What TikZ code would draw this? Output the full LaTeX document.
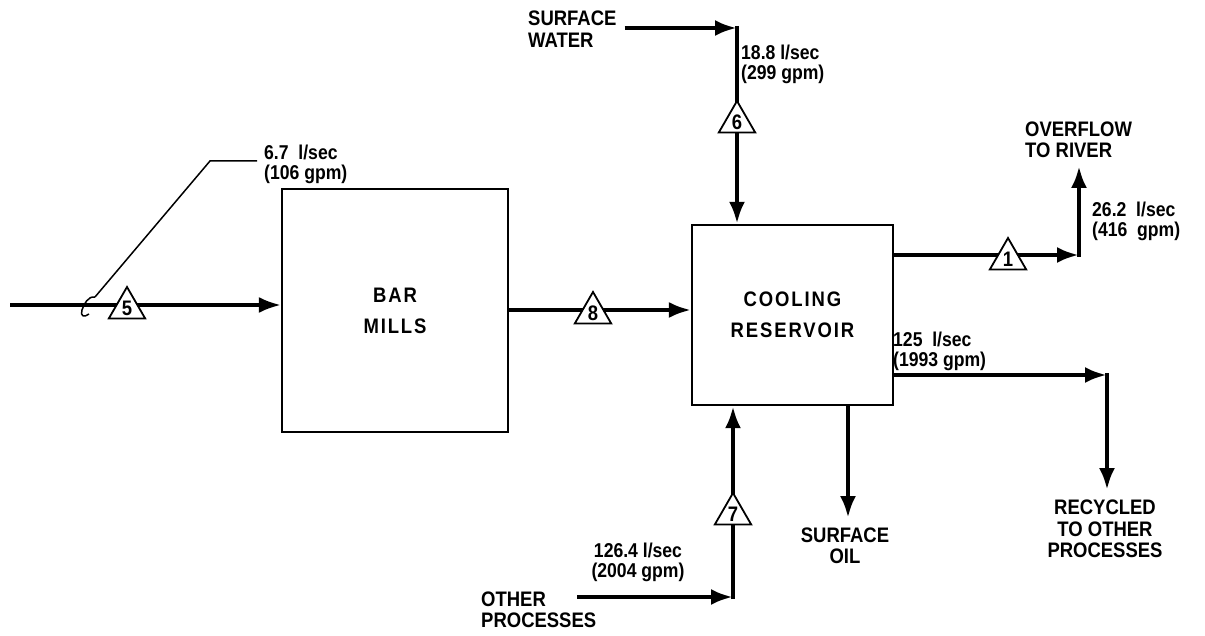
\documentclass[tikz,border=0pt]{standalone}
\usepackage{fontspec}
\setmainfont{Liberation Sans}[FakeStretch=0.88]
\usetikzlibrary{arrows.meta,shapes.geometric}
\newcommand\labfont{\bfseries\fontsize{21}{21.5}\selectfont}
\newcommand\numfont{\bfseries\fontsize{20}{20}\selectfont}
\newcommand\boxfont{\bfseries\addfontfeatures{LetterSpace=9}\fontsize{21}{31}\selectfont}
\begin{document}
\begin{tikzpicture}[x=1pt,y=-1pt,
  box/.style={draw, line width=2.2pt, inner sep=0pt, align=center, font=\boxfont},
  flow/.style={line width=4.5pt, -{Latex[length=22pt,width=16pt]}},
  tri/.style={regular polygon, regular polygon sides=3, minimum size=42pt, draw, line width=1.8pt, fill=white, inner sep=0pt, font=\labfont},
  lab/.style={font=\labfont, align=left, inner sep=0pt},
  num/.style={font=\numfont, align=left, inner sep=0pt},
  leader/.style={line width=1.5pt},
]
\fill[white] (0,0) rectangle (1205,636);
\useasboundingbox (0,0) rectangle (1205,636);

% boxes
\node[box, minimum width=226pt, minimum height=243pt] (bm) at (395,310.5) {\raisebox{-2pt}{BAR}\\\raisebox{-2pt}{MILLS}};
\node[box, minimum width=201pt, minimum height=180pt] (cr) at (792.5,315) {\raisebox{-2pt}{COOLING}\\\raisebox{-2pt}{RESERVOIR}};

% coordinates
\coordinate (in5) at (10,305);
\coordinate (l8) at (600,310);
\coordinate (c6) at (737,28);
\coordinate (c1) at (1079,255);
\coordinate (ov) at (1079,166);
\coordinate (c9) at (1107,375);
\coordinate (rec) at (1107,490);
\coordinate (oil) at (848,518);
\coordinate (s7) at (577,597);
\coordinate (c7) at (733,597);
\coordinate (h5) at (95,297);
\coordinate (k5) at (210,161);
\coordinate (e5) at (257,161);

% labels
\node[lab, anchor=west] (sw) at (528,29) {SURFACE\\WATER};
\node[lab, anchor=west] (ovl) at (1025,140) {OVERFLOW\\TO RIVER};
\node[lab, align=center] (recl) at (1105,529) {RECYCLED\\TO OTHER\\PROCESSES};
\node[lab, align=center] (oill) at (845,546) {SURFACE\\OIL};
\node[lab, anchor=west] (op) at (481,610) {OTHER\\PROCESSES};

\node[num, anchor=west] (q5) at (264,164) {6.7\ \ l/sec\\(106 gpm)};
\node[num, anchor=west] (q6) at (741,64) {18.8 l/sec\\(299 gpm)};
\node[num, anchor=west] (q1) at (1092,221) {26.2\ \ l/sec\\(416\ \ gpm)};
\node[num, anchor=west] (q9) at (893,351) {125\ \ l/sec\\(1993 gpm)};
\node[num, align=center] (q7) at (638,562) {126.4 l/sec\\(2004 gpm)};

% flows
\draw[flow, line width=3.5pt] (in5) -- (in5 -| bm.west);
\draw[flow, line width=3.8pt] (bm.east |- l8) -- (cr.west |- l8);
\draw[flow] (sw.north east |- c6) ++(8,0) -- (c6);
\draw[flow] ([yshift=2pt]c6) -- (c6 |- cr.north);
\draw[flow] (cr.east |- c1) -- (c1);
\draw[flow] ([yshift=-2pt]c1) -- (ov);
\draw[flow] (cr.east |- c9) -- (c9);
\draw[flow] ([yshift=2pt]c9) -- (rec);
\draw[flow] (oil |- cr.south) -- (oil);
\draw[flow] (s7) -- (c7);
\draw[flow] ([yshift=-2pt]c7) -- (c7 |- cr.south);

% leader
\draw[leader] (h5) -- (k5) -- (e5);
\draw[leader] (h5) .. controls (88,296) and (84,304) .. (82,310) .. controls (80,316) and (84,318) .. (89,314);

% stream triangles
\node[tri] (t5) at (127,308) {5};
\node[tri] (t8) at (593,313) {8};
\node[tri] (t6) at (737,122) {6};
\node[tri] (t1) at (1008,259) {1};
\node[tri] (t7) at (733,514) {7};
\end{tikzpicture}
\end{document}
